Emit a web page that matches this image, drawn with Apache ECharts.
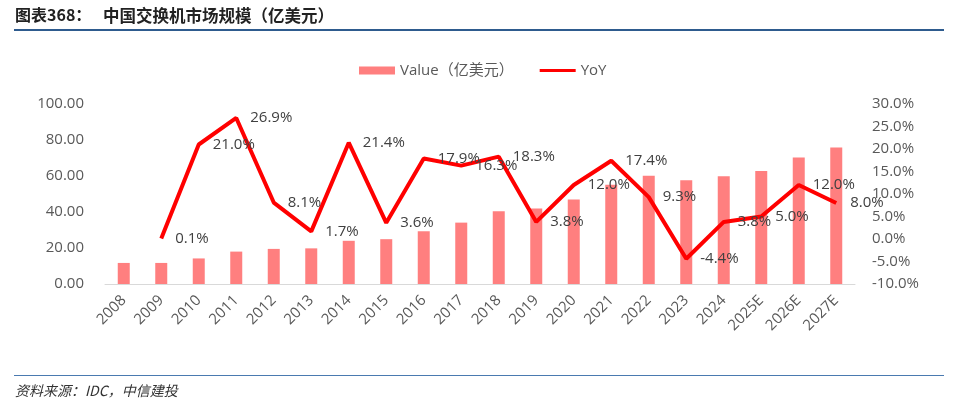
<!DOCTYPE html>
<html>
<head>
<meta charset="utf-8">
<style>
  html, body { margin: 0; padding: 0; background: #fff; }
  #root { width: 960px; height: 412px; }
</style>
<script src="https://cdn.jsdelivr.net/npm/echarts@6/dist/echarts.min.js"></script>
</head>
<body>
<div id="root"></div>
<script>
// 数据
const years = ['2008', '2009', '2010', '2011', '2012', '2013', '2014', '2015', '2016', '2017',
  '2018', '2019', '2020', '2021', '2022', '2023', '2024', '2025E', '2026E', '2027E']
const marketValue = [11.7, 11.7, 14.2, 18.0, 19.5, 19.8, 24.0, 24.9, 29.3, 34.1,
  40.4, 41.9, 46.9, 55.1, 60.2, 57.6, 59.8, 62.8, 70.3, 75.9]
const yoy = [null, 0.1, 21.0, 26.9, 8.1, 1.7, 21.4, 3.6, 17.9, 16.3,
  18.3, 3.8, 12.0, 17.4, 9.3, -4.4, 3.8, 5.0, 12.0, 8.0]

const font = '"Open Sans", "Noto Sans CJK SC", sans-serif'
const gray = '#595959'

let myChart = echarts.init(document.querySelector('#root'))

let option = {
  animation: false,
  textStyle: { fontFamily: font },
  legend: {
    top: 58,
    left: 354,
    itemWidth: 36,
    itemHeight: 8,
    itemGap: 26,
    textStyle: { color: gray, fontSize: 15, fontFamily: font },
    data: [
      { name: 'Value（亿美元）', icon: 'rect' },
      { name: 'YoY', icon: 'path://M0,0 H36 V3 H0 Z', itemStyle: { color: '#ff0000', opacity: 1 } }
    ]
  },
  grid: { left: 105, right: 105, top: 104, bottom: 128 },
  xAxis: {
    type: 'category',
    data: years,
    axisLine: { lineStyle: { color: '#d9d9d9', width: 1 } },
    axisTick: { show: false },
    axisLabel: { rotate: 45, color: gray, fontSize: 15, margin: 14, interval: 0 }
  },
  yAxis: [
    {
      type: 'value', min: 0, max: 100, interval: 20,
      splitLine: { show: false },
      axisLabel: { color: gray, fontSize: 15, margin: 21, formatter: v => v.toFixed(2) }
    },
    {
      type: 'value', min: -10, max: 30, interval: 5,
      splitLine: { show: false },
      axisLabel: { color: gray, fontSize: 15, margin: 17, formatter: v => v.toFixed(1) + '%' }
    }
  ],
  series: [
    {
      name: 'Value（亿美元）',
      type: 'bar',
      data: marketValue,
      barWidth: '32%',
      itemStyle: { color: '#ff7f7f' }
    },
    {
      name: 'YoY',
      type: 'line',
      yAxisIndex: 1,
      data: yoy,
      symbol: 'circle',
      symbolSize: 0,
      showSymbol: true,
      lineStyle: { color: '#ff0000', width: 4 },
      itemStyle: { color: '#ff0000' },
      label: {
        show: true,
        position: 'right',
        distance: 14,
        color: '#404040',
        fontSize: 15,
        formatter: p => p.value.toFixed(1) + '%'
      }
    }
  ],
  graphic: [
    { type: 'text', left: 15, top: 7, style: { text: '图表368：', fontSize: 16, fontWeight: 'bold', fill: '#222', fontFamily: '"Noto Sans CJK SC", serif' } },
    { type: 'text', left: 103, top: 7, style: { text: '中国交换机市场规模（亿美元）', fontSize: 16.5, fontWeight: 'bold', fill: '#222', fontFamily: '"Noto Sans CJK SC", serif' } },
    { type: 'rect', shape: { x: 14, y: 29, width: 930, height: 2 }, style: { fill: '#2e5b8e' } },
    { type: 'rect', shape: { x: 14, y: 375, width: 930, height: 1 }, style: { fill: '#4a7ab0' } },
    { type: 'text', left: 15, top: 384, style: { text: '资料来源：IDC，中信建投', fontSize: 14, fontStyle: 'italic', fill: '#333', fontFamily: '"Noto Sans CJK SC", serif' } }
  ]
}

myChart.setOption(option)
</script>
</body>
</html>
